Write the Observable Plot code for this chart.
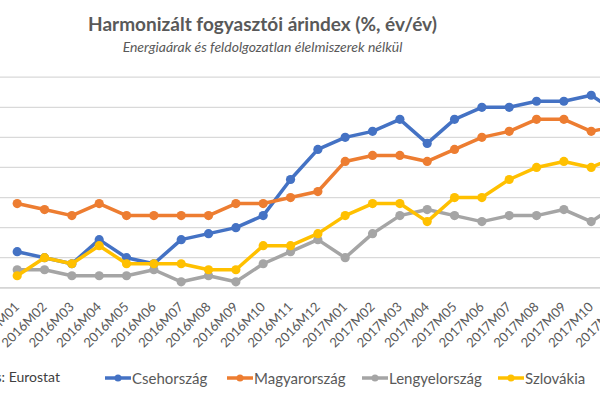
<!DOCTYPE html>
<html>
<head>
<meta charset="utf-8">
<script src="https://cdn.jsdelivr.net/npm/d3@7"></script>
<script src="https://cdn.jsdelivr.net/npm/@observablehq/plot@0.6"></script>
<style>
  body { margin: 0; background: #fff; }
  #wrap { position: relative; width: 600px; height: 400px; overflow: hidden; background: #fff; font-family: Lato, "Open Sans", sans-serif; color: #595959; }
  #title { position: absolute; left: 0; width: 525px; top: 13px; text-align: center; font-weight: 700; font-size: 19px; line-height: 1.2; }
  #sub { position: absolute; left: 0; width: 525px; top: 39px; text-align: center; font-style: italic; font-size: 14px; line-height: 1.2; }
  #chart { position: absolute; left: 0; top: 60px; }
  #src { position: absolute; right: 540px; top: 369px; font-size: 14px; line-height: 1.2; color: #404040; white-space: nowrap; }
  .leg { position: absolute; top: 369px; font-size: 15px; line-height: 1.2; white-space: nowrap; display: flex; align-items: center; }
  .leg svg { margin-right: 1px; }
</style>
</head>
<body>
<div id="wrap">
  <div id="title">Harmonizált fogyasztói árindex (%, év/év)</div>
  <div id="sub">Energiaárak és feldolgozatlan élelmiszerek nélkül</div>
  <div id="chart"></div>
  <div id="src">Forrás: Eurostat</div>
  <div id="legend"></div>
</div>
<script>
const months = ["2016M01","2016M02","2016M03","2016M04","2016M05","2016M06","2016M07","2016M08","2016M09","2016M10","2016M11","2016M12",
                "2017M01","2017M02","2017M03","2017M04","2017M05","2017M06","2017M07","2017M08","2017M09","2017M10","2017M11"];
const countries = ["Csehország", "Magyarország", "Lengyelország", "Szlovákia"];
const colors = ["#4472C4", "#ED7D31", "#A5A5A5", "#FFC000"];
const cz = [0.6,0.5,0.4,0.8,0.5,0.4,0.8,0.9,1.0,1.2,1.8,2.3,2.5,2.6,2.8,2.4,2.8,3.0,3.0,3.1,3.1,3.2,2.9];
const hu = [1.4,1.3,1.2,1.4,1.2,1.2,1.2,1.2,1.4,1.4,1.5,1.6,2.1,2.2,2.2,2.1,2.3,2.5,2.6,2.8,2.8,2.6,2.7];
const pl = [0.3,0.3,0.2,0.2,0.2,0.3,0.1,0.2,0.1,0.4,0.6,0.8,0.5,0.9,1.2,1.3,1.2,1.1,1.2,1.2,1.3,1.1,1.4];
const sk = [0.2,0.5,0.4,0.7,0.4,0.4,0.4,0.3,0.3,0.7,0.7,0.9,1.2,1.4,1.4,1.1,1.5,1.5,1.8,2.0,2.1,2.0,2.2];
const seriesValues = [cz, hu, pl, sk];

const series = countries.map((name, k) => ({
  name, color: colors[k],
  rows: seriesValues[k].map((v, i) => ({country: name, i, month: months[i], value: v}))
}));

const marks = [
  Plot.gridY({stroke: "#d9d9d9", strokeOpacity: 1, strokeWidth: 1.3}),
  Plot.ruleY([0], {stroke: "#d0d0d0", strokeWidth: 1.3}),
  Plot.axisX({
    ticks: d3.range(months.length),
    tickFormat: i => months[i],
    tickRotate: -45,
    tickSize: 0,
    tickPadding: 17,
    fontSize: 13,
    fill: "#595959",
    label: null
  })
];
for (const s of series) {
  marks.push(Plot.line(s.rows, {x: "i", y: "value", stroke: s.color, strokeWidth: 3.5, clip: true}));
  marks.push(Plot.dot(s.rows, {x: "i", y: "value", r: 4.6, fill: s.color, clip: true}));
}

const chart = Plot.plot({
  width: 600,
  height: 300,
  marginLeft: 0,
  marginRight: 0,
  marginTop: 16.7,
  marginBottom: 72.7,
  style: {fontFamily: "Lato, 'Open Sans', sans-serif", background: "transparent", overflow: "visible"},
  x: {type: "linear", domain: [-0.611, 21.34], axis: null, label: null},
  y: {domain: [0, 3.5], ticks: 7, axis: null},
  marks
});
document.getElementById("chart").appendChild(chart);

// legend
const legendLeft = [105, 227, 362, 498];
const legend = document.getElementById("legend");
countries.forEach((name, k) => {
  const item = document.createElement("div");
  item.className = "leg";
  item.style.left = legendLeft[k] + "px";
  item.innerHTML = `<svg width="26" height="12"><line x1="0" x2="26" y1="6" y2="6" stroke="${colors[k]}" stroke-width="3.5"/><circle cx="13" cy="6" r="3.5" fill="${colors[k]}"/></svg><span>${name}</span>`;
  legend.appendChild(item);
});
</script>
</body>
</html>
